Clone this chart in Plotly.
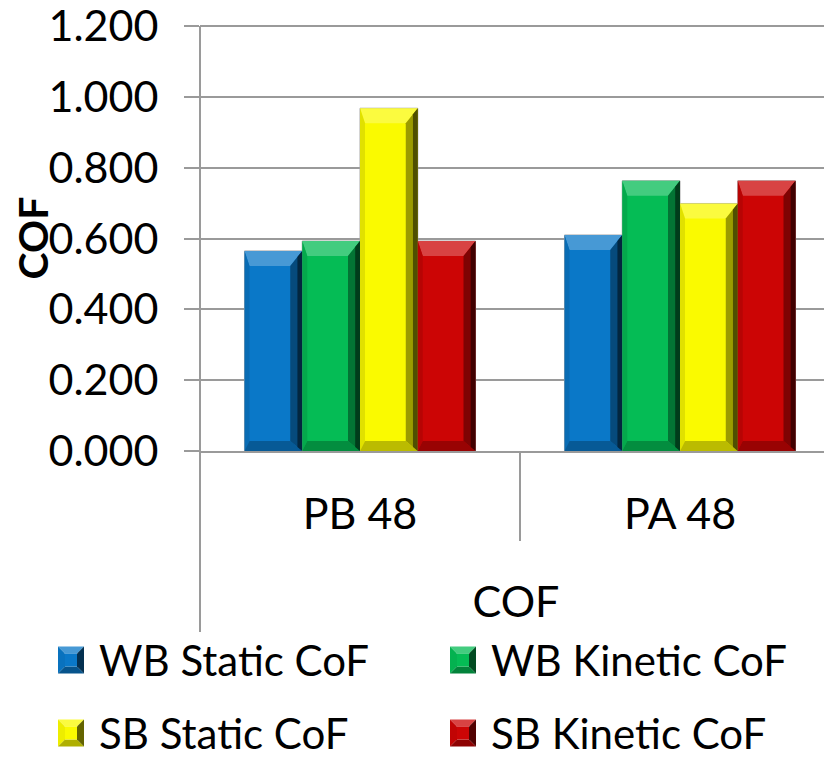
import plotly.graph_objects as go

# --- DATA ---
categories = ["PB 48", "PA 48"]
series_names = ["WB Static CoF", "WB Kinetic CoF", "SB Static CoF", "SB Kinetic CoF"]
wb_static = [0.565, 0.610]
wb_kinetic = [0.593, 0.763]
sb_static = [0.968, 0.699]
sb_kinetic = [0.593, 0.763]
y_ticks = [0.0, 0.2, 0.4, 0.6, 0.8, 1.0, 1.2]
axis_title = "COF"

# --- STYLE ---
OFF = 8                 # the page body adds an 8px margin, so draw 8px smaller
W, H = 832 - OFF, 758 - OFF
PX_PER_UNIT = 425 / 1.2
y_max = y_ticks[-1] + 0.003          # a little headroom so the 1.200 tick is kept
PLOT_H = y_max * PX_PER_UNIT
M_L, M_R = 200 - OFF, 0
M_T = 451 - OFF - PLOT_H
M_B = H - M_T - PLOT_H
PLOT_W = W - M_L - M_R
CAT_PX = 320            # pixels per category
BARGAP = 0.278
FONT = "Lato"
GRID = "#9a9a9a"
COLORS = ["#0a78c8", "#05bc55", "#fafa00", "#cc0505"]

series_values = [wb_static, wb_kinetic, sb_static, sb_kinetic]
x_max = -0.5 + PLOT_W / CAT_PX
px_x = 1.0 / CAT_PX          # data units per pixel
px_y = 1.0 / PX_PER_UNIT


def shade(hexcol, f):
    # f < 0 darkens towards black, f > 0 lightens towards white
    r, g, b = (int(hexcol[i:i + 2], 16) for i in (1, 3, 5))
    if f < 0:
        r, g, b = (int(c * (1 + f)) for c in (r, g, b))
    else:
        r, g, b = (int(c + (255 - c) * f) for c in (r, g, b))
    return f"#{r:02x}{g:02x}{b:02x}"


def poly(pts):
    return "M " + " L ".join(f"{x},{y}" for x, y in pts) + " Z"


fig = go.Figure()
for name, vals, col in zip(series_names, series_values, COLORS):
    fig.add_trace(go.Bar(
        x=categories, y=vals, name=name,
        marker=dict(color=col, line=dict(color="#a8a8a8", width=1)),
        showlegend=False
    ))

# bevel shading drawn over each bar, positions follow the grouped bar layout
shapes = []
n = len(series_values)
bw = (1 - BARGAP) / n
th, ls, rs, bb = 15 * px_y, 5 * px_x, 12 * px_x, 10 * px_y
for i, (vals, col) in enumerate(zip(series_values, COLORS)):
    for c, v in enumerate(vals):
        x0 = c - (1 - BARGAP) / 2 + i * bw
        x1 = x0 + bw
        parts = [
            ([(x0, v), (x1, v), (x1 - rs, v - th), (x0 + ls, v - th)], shade(col, 0.25)),
            ([(x0, v), (x0 + ls, v - th), (x0 + ls, bb), (x0, 0)], shade(col, -0.1)),
            ([(x0, 0), (x1, 0), (x1 - rs, bb), (x0 + ls, bb)], shade(col, -0.25)),
            ([(x1, v), (x1, 0), (x1 - rs, bb), (x1 - rs, v - th)], shade(col, -0.38)),
            ([(x1, v), (x1, 0), (x1 - rs * 0.4, 0.4 * bb), (x1 - rs * 0.4, v - 0.4 * th)], shade(col, -0.68)),
        ]
        for pts, fc in parts:
            shapes.append(dict(type="path", xref="x", yref="y", path=poly(pts),
                               fillcolor=fc, line=dict(width=0), layer="above"))

# category divider tick and the long left axis line (from 1.2 down below the labels)
shapes.append(dict(type="line", xref="x", yref="paper", x0=0.5, x1=0.5,
                   y0=0, y1=-90 / PLOT_H, line=dict(color=GRID, width=2)))
shapes.append(dict(type="line", xref="paper", yref="paper", x0=0, x1=0,
                   y0=y_ticks[-1] / y_max, y1=-181 / PLOT_H, line=dict(color=GRID, width=2)))


def P(x, y):
    # page pixel (reference coordinates) -> paper coordinates
    return ((x - OFF - M_L) / PLOT_W, (M_T + PLOT_H - (y - OFF)) / PLOT_H)


# custom legend (2 x 2)
annotations = []
leg_cols = [58, 450]
leg_rows = [660, 733]
sw, sh = 26, 27
for k, (name, col) in enumerate(zip(series_names, COLORS)):
    lx = leg_cols[k % 2]
    ly = leg_rows[k // 2]
    px0, px1 = lx, lx + sw
    py0, py1 = ly - sh / 2, ly + sh / 2
    inset = 7
    ix0, ix1, iy0, iy1 = px0 + inset, px1 - inset, py0 + inset, py1 - inset
    faces = [
        ([P(px0, py0), P(px1, py0), P(ix1, iy0), P(ix0, iy0)], shade(col, 0.25)),
        ([P(px0, py0), P(ix0, iy0), P(ix0, iy1), P(px0, py1)], shade(col, -0.05)),
        ([P(px0, py1), P(px1, py1), P(ix1, iy1), P(ix0, iy1)], shade(col, -0.3)),
        ([P(px1, py0), P(px1, py1), P(ix1, iy1), P(ix1, iy0)], shade(col, -0.6)),
        ([P(ix0, iy0), P(ix1, iy0), P(ix1, iy1), P(ix0, iy1)], col),
    ]
    for pts, fc in faces:
        shapes.append(dict(type="path", xref="paper", yref="paper", path=poly(pts),
                           fillcolor=fc, line=dict(width=0)))
    tx, ty = P(lx + 39, ly)
    annotations.append(dict(
        text=name, xref="paper", yref="paper", x=tx, y=ty,
        xanchor="left", yanchor="middle", showarrow=False,
        font=dict(family=FONT, size=42, color="black")
    ))

fig.update_layout(
    width=W, height=H,
    margin=dict(l=M_L, r=M_R, t=M_T, b=M_B),
    paper_bgcolor="white", plot_bgcolor="white",
    barmode="group", bargap=BARGAP, bargroupgap=0,
    font=dict(family=FONT, size=43, color="black"),
    shapes=shapes, annotations=annotations,
    showlegend=False,
)
fig.update_xaxes(
    type="category", range=[-0.5, x_max], automargin=False,
    showline=True, linecolor=GRID, linewidth=2,
    ticks="", ticklabelstandoff=24,
    tickfont=dict(family=FONT, size=43),
    title=dict(text=axis_title, font=dict(family=FONT, size=43), standoff=50),
    showgrid=False, zeroline=False,
)
fig.update_yaxes(
    range=[0, y_max], tickvals=y_ticks, tickformat=".3f", automargin=False,
    showgrid=True, gridcolor=GRID, gridwidth=2,
    showline=False,
    ticks="outside", ticklen=15, tickcolor=GRID, tickwidth=2,
    ticklabelstandoff=17, ticklabeloverflow="allow",
    tickfont=dict(family=FONT, size=43),
    title=dict(text="<b>" + axis_title + "</b>", font=dict(family=FONT, size=41), standoff=0),
    zeroline=False,
)

fig.write_html("out.html")
